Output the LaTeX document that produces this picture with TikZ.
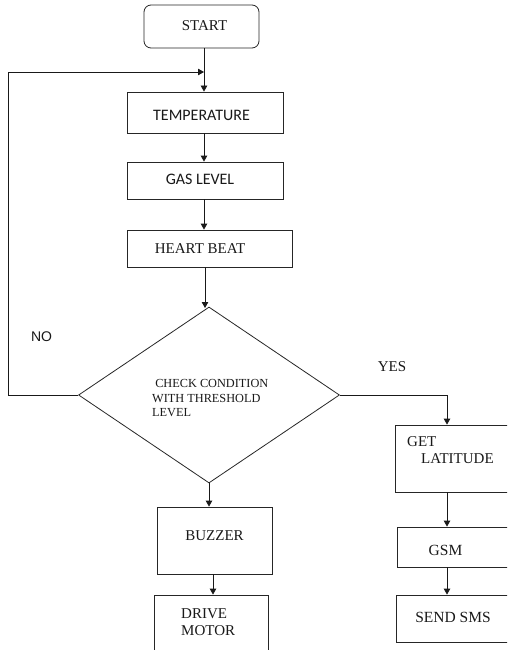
\documentclass[tikz,border=0pt]{standalone}
\usepackage{fontspec}
\setmainfont{Liberation Serif}
\newfontfamily\calfont{Carlito}
\newfontfamily\arialfont{Liberation Sans}
\usetikzlibrary{arrows.meta,shapes.geometric}
\tikzset{
  box/.style={draw=black!85, line width=0.8pt, minimum width=#1, inner sep=0pt},
  txt/.style={inner sep=0pt, font=\fontsize{15}{17}\selectfont, text=black!90},
  arr/.style={draw=black!90, line width=0.8pt, -{Triangle[width=6.5pt,length=6pt]}},
  ln/.style={draw=black!90, line width=0.8pt}
}
\begin{document}
\begin{tikzpicture}[x=1pt,y=-1pt]
\clip (0,0) rectangle (507,650);
\fill[white] (0,0) rectangle (507,650);
% boxes
\node[box=115pt, minimum height=43pt, rounded corners=7pt] (start) at (201.5,26.5) {};
\node[box=156pt, minimum height=41pt] (temp) at (205,112.5) {};
\node[box=156pt, minimum height=37pt] (gas) at (205,180.5) {};
\node[box=165pt, minimum height=37pt] (heart) at (209.5,248.5) {};
\node[draw=black!85, line width=0.8pt, shape=diamond, minimum width=261pt, minimum height=176pt, inner sep=0pt] (dia) at (209,395) {};
\node[box=130pt, minimum height=67pt] (lat) at (460,458.5) {};
\node[box=128pt, minimum height=40pt] (gsm) at (461,547) {};
\node[box=129pt, minimum height=47pt] (sms) at (460.5,618.5) {};
\node[box=115pt, minimum height=67pt] (buz) at (214.5,540.5) {};
\node[box=114pt, minimum height=65pt] (drive) at (211,627.5) {};
% texts
\node[txt] (tstart) at (204.5,26) {START};
\node[txt, font=\calfont\fontsize{16}{18}\selectfont] (ttemp) at (201.5,115) {TEMPERATURE};
\node[txt, font=\calfont\fontsize{16}{18}\selectfont] (tgas) at (200,179) {GAS LEVEL};
\node[txt] (theart) at (200,248.5) {HEART BEAT};
\node[txt, font=\fontsize{12.3}{14.5}\selectfont, align=left, anchor=north west] (tdia) at (152,379.5) {\ CHECK CONDITION\\WITH THRESHOLD\\LEVEL};
\node[txt, align=left, anchor=north west] (tlat) at (407,436) {GET\\\hspace*{14pt}LATITUDE};
\node[txt, font=\fontsize{15.5}{18}\selectfont] (tgsm) at (445.5,550) {GSM};
\node[txt, font=\fontsize{15.5}{18}\selectfont] (tsms) at (453,617) {SEND SMS};
\node[txt] (tbuz) at (214.5,536) {BUZZER};
\node[txt, align=left, anchor=north west] (tdrive) at (181,608.5) {DRIVE\\MOTOR};
\node[txt, font=\arialfont\fontsize{14}{16}\selectfont] (tno) at (41.5,337) {NO};
\node[txt] (tyes) at (392,367) {YES};
% connectors
\coordinate (loopA) at (8,395);
\coordinate (loopB) at (8,72);
\coordinate (loopC) at (204,72);
\coordinate (yesA) at (447,395);
\coordinate (diaTop) at (205,308);
\draw[arr] (start.south -| 204,0) -- (204,0 |- temp.north);
\draw[arr] (temp.south -| 204,0) -- (204,0 |- gas.north);
\draw[arr] (gas.south -| 204,0) -- (204,0 |- heart.north);
\draw[arr] (heart.south -| diaTop) -- (diaTop);
\draw[ln] (dia.west) -- (loopA) -- (loopB);
\draw[arr] (loopB) -- (loopC);
\draw[ln] (dia.east) -- (yesA);
\draw[arr] (yesA) -- (yesA |- lat.north);
\draw[arr] (447,0 |- lat.south) -- (447,0 |- gsm.north);
\draw[arr] (447,0 |- gsm.south) -- (447,0 |- sms.north);
\draw[arr] (dia.south) -- (dia.south |- buz.north);
\draw[arr] (213,0 |- buz.south) -- (213,0 |- drive.north);
\end{tikzpicture}
\end{document}
